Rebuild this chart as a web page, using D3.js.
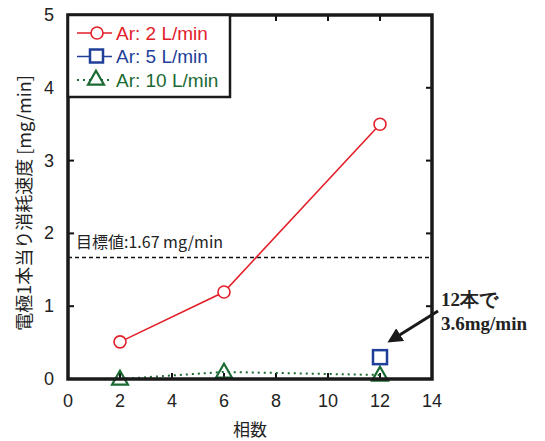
<!DOCTYPE html>
<html><head><meta charset="utf-8">
<script src="https://cdn.jsdelivr.net/npm/d3@7"></script>
<style>body{margin:0;background:#fff}</style>
</head><body>
<svg id="c" width="545" height="441"></svg>
<script>
const xTicks = [0,2,4,6,8,10,12,14];
const yTicks = [0,1,2,3,4,5];
const red = [[2,0.51],[6,1.195],[12,3.5]];
const blue = [[12,0.3]];
const green = [[2,0.0],[6,0.097],[12,0.055]];
const target = 1.67;
const seriesNames = ["Ar: 2 L/min","Ar: 5 L/min","Ar: 10 L/min"];

const svg = d3.select("#c");
const L=68,R=432,T=15,B=379;
const x = d3.scaleLinear().domain([0,14]).range([L,R]);
const y = d3.scaleLinear().domain([0,5]).range([B,T]);
const font = "'Liberation Sans', Arial, sans-serif";
const jp = "'Noto Sans CJK JP', sans-serif";

// ticks (inward)
const g = svg.append("g");
xTicks.forEach(t=>{
  g.append("line").attr("x1",x(t)).attr("x2",x(t)).attr("y1",B).attr("y2",B-6).attr("stroke","#111").attr("stroke-width",2);
  g.append("line").attr("x1",x(t)).attr("x2",x(t)).attr("y1",T).attr("y2",T+6).attr("stroke","#111").attr("stroke-width",2);
  g.append("text").attr("x",x(t)).attr("y",B+28).attr("text-anchor","middle").attr("font-family",font).attr("font-size",18).attr("fill","#222").text(t);
});
yTicks.forEach(t=>{
  g.append("line").attr("x1",L).attr("x2",L+6).attr("y1",y(t)).attr("y2",y(t)).attr("stroke","#111").attr("stroke-width",2);
  g.append("line").attr("x1",R).attr("x2",R-6).attr("y1",y(t)).attr("y2",y(t)).attr("stroke","#111").attr("stroke-width",2);
  g.append("text").attr("x",L-14).attr("y",y(t)+6).attr("text-anchor","end").attr("font-family",font).attr("font-size",18).attr("fill","#222").text(t);
});

// target line
svg.append("line").attr("x1",L).attr("x2",R).attr("y1",y(target)).attr("y2",y(target)).attr("stroke","#111").attr("stroke-width",1.5).attr("stroke-dasharray","4,3");
svg.append("text").attr("x",L+8).attr("y",y(target)-9).attr("font-family",jp).attr("font-size",16).attr("fill","#222").text("目標値:1.67 mg/min");

const line = d3.line().x(d=>x(d[0])).y(d=>y(d[1]));
// red
svg.append("path").attr("d",line(red)).attr("fill","none").attr("stroke","#e3202a").attr("stroke-width",1.6);
svg.selectAll(".rc").data(red).enter().append("circle").attr("cx",d=>x(d[0])).attr("cy",d=>y(d[1])).attr("r",6).attr("fill","#fff").attr("stroke","#e3202a").attr("stroke-width",1.6);
// green
svg.append("path").attr("d",line(green)).attr("fill","none").attr("stroke","#1a6a32").attr("stroke-width",2).attr("stroke-dasharray","2,4");
const tri = d3.symbol().type(d3.symbolTriangle).size(110);
svg.selectAll(".gt").data(green).enter().append("path").attr("d",tri).attr("transform",d=>`translate(${x(d[0])},${y(d[1])+1})`).attr("fill","none").attr("stroke","#1a6a32").attr("stroke-width",2.2);
// blue
svg.selectAll(".bs").data(blue).enter().append("rect").attr("x",d=>x(d[0])-7).attr("y",d=>y(d[1])-7).attr("width",14).attr("height",14).attr("fill","#fff").attr("stroke","#1f3f99").attr("stroke-width",2.5);

// frame
svg.append("rect").attr("x",L).attr("y",T).attr("width",R-L).attr("height",B-T).attr("fill","none").attr("stroke","#1a1a1a").attr("stroke-width",3.5);

// legend
const lg = svg.append("g");
lg.append("rect").attr("x",L).attr("y",T).attr("width",162).attr("height",82).attr("fill","#fff").attr("stroke","#1a1a1a").attr("stroke-width",2.5);
const cols = ["#e3202a","#1f3f99","#1a6a32"];
seriesNames.forEach((n,i)=>{
  const yy = T+18+i*23.5;
  const ln = lg.append("line").attr("x1",L+9).attr("x2",L+44).attr("y1",yy).attr("y2",yy).attr("stroke",cols[i]).attr("stroke-width",1.6);
  if(i==2) ln.attr("stroke-dasharray","2,4").attr("stroke-width",2);
  if(i==0) lg.append("circle").attr("cx",L+29).attr("cy",yy).attr("r",6).attr("fill","#fff").attr("stroke",cols[i]).attr("stroke-width",1.6);
  if(i==1) lg.append("rect").attr("x",L+22).attr("y",yy-7).attr("width",13).attr("height",13).attr("fill","#fff").attr("stroke",cols[i]).attr("stroke-width",2.5);
  if(i==2) lg.append("path").attr("d",tri).attr("transform",`translate(${L+28},${yy})`).attr("fill","#fff").attr("stroke",cols[i]).attr("stroke-width",2.2);
  lg.append("text").attr("x",L+48).attr("y",yy+6.5).attr("font-family",font).attr("font-size",19).attr("fill",cols[i]).text(n);
});

// axis labels
svg.append("text").attr("x",250).attr("y",436).attr("text-anchor","middle").attr("font-family",jp).attr("font-size",17).attr("fill","#222").text("相数");
svg.append("text").attr("transform","translate(31,203) rotate(-90)").attr("text-anchor","middle").attr("font-family",jp).attr("font-size",18)
  .attr("fill","#222").text("電極1本当り消耗速度 [mg/min]");

// annotation
svg.append("defs").append("marker").attr("id","ah").attr("viewBox","0 0 10 10").attr("refX",8).attr("refY",5).attr("markerWidth",5).attr("markerHeight",5).attr("orient","auto")
  .append("path").attr("d","M0,0 L10,5 L0,10 z").attr("fill","#1a1a1a");
svg.append("line").attr("x1",438).attr("y1",311).attr("x2",390).attr("y2",341).attr("stroke","#1a1a1a").attr("stroke-width",3).attr("marker-end","url(#ah)");
svg.append("text").attr("x",441).attr("y",306).attr("font-family","'Liberation Serif', serif").attr("font-weight","bold").attr("font-size",19).attr("fill","#222").text("12本で");
svg.append("text").attr("x",441).attr("y",330).attr("font-family","'Liberation Serif', serif").attr("font-weight","bold").attr("font-size",19).attr("fill","#222").text("3.6mg/min");
</script>
</body></html>
